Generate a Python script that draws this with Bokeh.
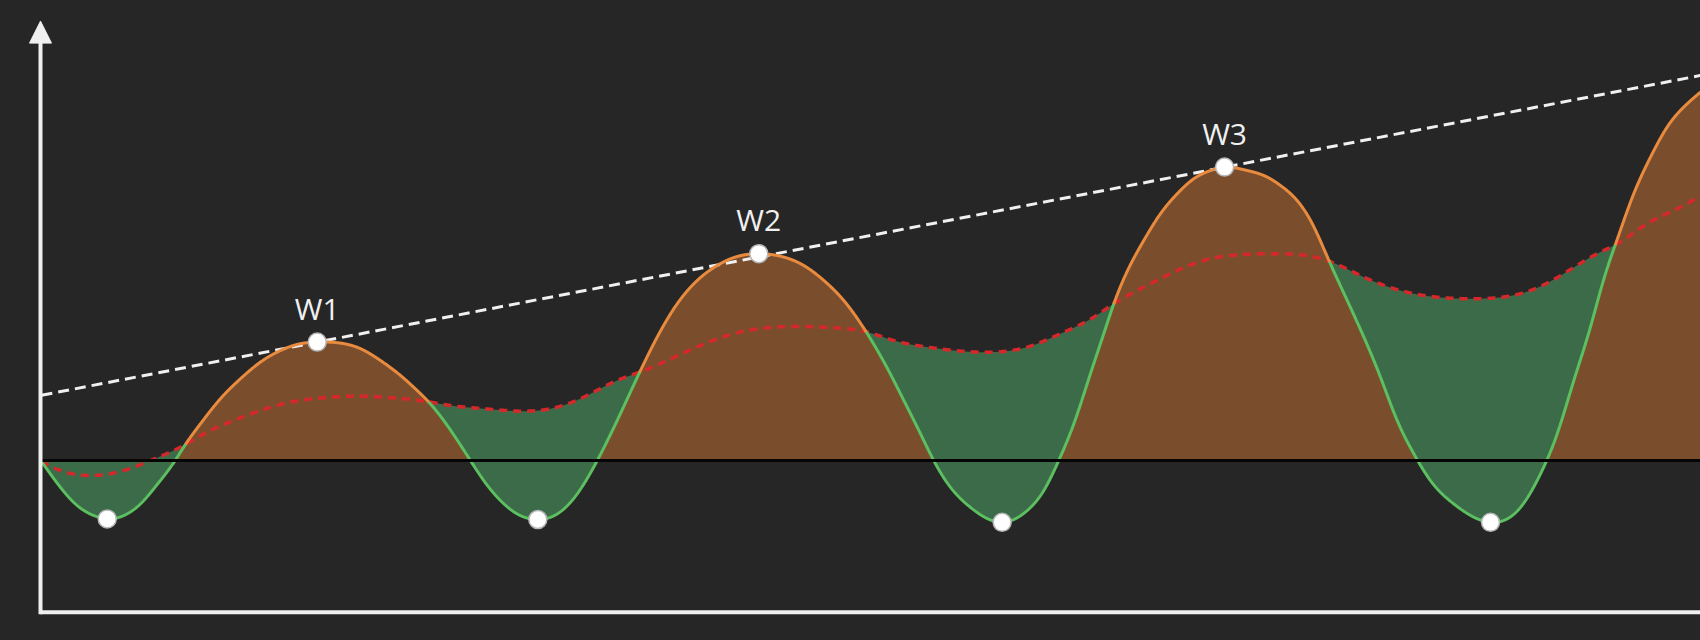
import numpy as np
from bokeh.plotting import figure
from bokeh.models import Range1d, Arrow, NormalHead
from bokeh.embed import file_html
from bokeh.resources import INLINE
from bokeh.core.properties import value

# ---------------- data ----------------
main_x = [0.00, 1.14, 2.15, 3.15, 3.96, 4.96, 5.96, 6.97, 7.97, 8.67, 9.58, 10.78, 11.99, 13.19,
          14.40, 15.60, 16.61, 18.01, 19.22, 20.42, 21.63, 22.63, 23.33, 24.23, 25.14, 25.84,
          26.64, 27.65, 28.66, 29.90, 31.07, 32.27, 33.48, 34.68, 36.04, 37.09, 38.30, 39.50,
          40.70, 41.91, 43.21, 44.72, 45.92, 47.13, 48.33, 49.74, 50.95, 51.95, 52.95, 53.75,
          54.76, 55.96, 57.87, 59.38, 60.38, 61.28, 62.19, 63.19, 63.99, 64.60, 65.40, 66.40,
          67.41, 68.42, 69.42, 70.42, 71.27, 72.43, 73.84, 74.64, 75.64, 76.64, 77.45, 78.66,
          79.66, 80.66, 81.67, 82.67, 83.67, 85.08, 87.29, 89.10, 90.30, 91.31, 92.31, 93.31,
          94.11, 94.92, 95.92, 96.93, 97.93, 98.93, 99.94]
main_y = [-0.05, -1.34, -2.25, -2.75, -2.92, -2.75, -2.17, -1.20, -0.10, 0.80, 1.84, 3.09, 4.09, 4.92,
          5.50, 5.84, 5.92, 5.87, 5.59, 5.00, 4.25, 3.50, 2.92, 2.00, 0.90, 0.00,
          -1.00, -2.00, -2.67, -2.95, -2.67, -1.67, 0.00, 2.00, 4.42, 6.17, 7.84, 9.00,
          9.75, 10.20, 10.34, 10.17, 9.75, 9.00, 8.00, 6.35, 4.62, 3.00, 1.34, 0.00,
          -1.34, -2.34, -3.09, -2.50, -1.50, 0.00, 1.84, 4.34, 6.34, 7.84, 9.45, 11.00,
          12.34, 13.34, 14.09, 14.50, 14.67, 14.54, 14.17, 13.75, 13.00, 11.70, 10.20, 8.00,
          6.17, 4.17, 2.00, 0.34, -1.00, -2.17, -3.09, -2.34, -0.67, 1.34, 4.00, 6.67,
          9.05, 11.05, 13.34, 15.17, 16.67, 17.67, 18.42]

avg_x = [0.00, 1.14, 2.95, 4.96, 6.57, 8.37, 9.98, 11.58, 13.19, 15.00, 17.01, 19.02, 21.02, 23.03,
         24.64, 26.64, 28.66, 30.66, 32.67, 34.68, 36.04, 37.69, 39.70, 41.70, 43.72, 45.72,
         47.73, 49.74, 51.34, 53.36, 55.36, 57.37, 59.38, 61.39, 63.39, 64.60, 66.40, 68.42,
         70.42, 72.43, 74.64, 77.45, 79.66, 82.67, 85.68, 87.69, 89.70, 91.70, 93.72, 94.92,
         96.73, 98.73, 99.94]
avg_y = [-0.05, -0.50, -0.75, -0.50, 0.00, 0.67, 1.42, 2.00, 2.50, 2.92, 3.14, 3.22, 3.14, 2.97,
         2.75, 2.59, 2.47, 2.59, 3.17, 4.00, 4.42, 5.00, 5.75, 6.34, 6.64, 6.70,
         6.64, 6.42, 6.00, 5.67, 5.47, 5.42, 5.67, 6.34, 7.17, 7.84, 8.67, 9.50,
         10.09, 10.30, 10.34, 10.00, 9.17, 8.34, 8.09, 8.14, 8.50, 9.34, 10.34, 10.84,
         11.84, 12.67, 13.25]

trend_x = [0.0, 100.0]
trend_y = [3.26, 19.26]

peak_x = [16.61, 43.21, 71.27]
peak_y = [5.92, 10.34, 14.67]
peak_labels = ["W1", "W2", "W3"]

trough_x = [3.96, 29.90, 57.87, 87.29]
trough_y = [-2.92, -2.95, -3.09, -3.09]

# ---------------- styles ----------------
BG = "#262626"
ORANGE_FILL = "#7a4e2d"
GREEN_FILL = "#3b6b48"
ORANGE_LINE = "#e98b3f"
GREEN_LINE = "#5cbf60"
RED = "#d6282b"
WHITE = "#f0f0f0"

X_LO, X_HI = -2.47, 99.94
Y_LO, Y_HI = -9.0, 23.0
AXIS_X = -0.06
AXIS_Y = -7.59
ARROW_TIP = 21.97


def spline(xp, yp, x):
    """Natural cubic spline through the read points (rendering only)."""
    xp = np.asarray(xp, float)
    yp = np.asarray(yp, float)
    n = len(xp)
    h = np.diff(xp)
    A = np.zeros((n, n))
    b = np.zeros(n)
    A[0, 0] = 1.0
    A[-1, -1] = 1.0
    for i in range(1, n - 1):
        A[i, i - 1] = h[i - 1]
        A[i, i] = 2 * (h[i - 1] + h[i])
        A[i, i + 1] = h[i]
        b[i] = 3 * ((yp[i + 1] - yp[i]) / h[i] - (yp[i] - yp[i - 1]) / h[i - 1])
    c = np.linalg.solve(A, b)
    bb = (yp[1:] - yp[:-1]) / h - h * (2 * c[:-1] + c[1:]) / 3
    dd = (c[1:] - c[:-1]) / (3 * h)
    i = np.clip(np.searchsorted(xp, x) - 1, 0, n - 2)
    dx = x - xp[i]
    return yp[i] + bb[i] * dx + c[i] * dx**2 + dd[i] * dx**3


p = figure(width=1700, height=640, output_backend="svg", toolbar_location=None, title=None,
           x_range=Range1d(X_LO, X_HI), y_range=Range1d(Y_LO, Y_HI),
           x_axis_type=None, y_axis_type=None,
           min_border_left=0, min_border_right=0, min_border_top=0, min_border_bottom=0,
           background_fill_color=BG, border_fill_color=BG, outline_line_color=None)
p.grid.visible = False

xs = np.linspace(main_x[0], main_x[-1], 5000)
m = spline(main_x, main_y, xs)
r = spline(avg_x, avg_y, xs)

# fills
p.varea(x=xs, y1=np.zeros_like(xs), y2=np.maximum(m, 0), fill_color=ORANGE_FILL)
p.varea(x=xs, y1=m, y2=np.maximum(np.maximum(m, r), 0), fill_color=GREEN_FILL)

# zero baseline (from the y-axis to the right edge)
p.add_layout(Arrow(end=None, x_start=AXIS_X, y_start=0, x_end=X_HI + 1, y_end=0,
                   line_color="#050505", line_width=3))

# trend line
p.line(trend_x, trend_y, line_color=WHITE, line_width=3, line_dash="11 6")

# moving average
p.line(xs, r, line_color=RED, line_width=3.5, line_dash="8 6")

# main curve coloured by relation to the average
below = m < r
above = ~below
above_d = above | np.roll(above, 1) | np.roll(above, -1)
below_d = below | np.roll(below, 1) | np.roll(below, -1)
p.line(xs, np.where(below_d, m, np.nan), line_color=GREEN_LINE, line_width=3)
p.line(xs, np.where(above_d, m, np.nan), line_color=ORANGE_LINE, line_width=3)

# markers
p.scatter(trough_x, trough_y, size=18, fill_color="white", line_color="#b5b5b5", line_width=1.5)
p.scatter(peak_x, peak_y, size=18, fill_color="white", line_color="#b5b5b5", line_width=1.5)

p.text(x=peak_x, y=peak_y, text=peak_labels, text_align="center", text_baseline="middle",
       y_offset=-34, text_font=value("Open Sans"), text_font_size="30px", text_color=WHITE)

# axes: x-axis line and y-axis with arrow head
p.add_layout(Arrow(end=None, x_start=AXIS_X, y_start=AXIS_Y, x_end=X_HI + 1, y_end=AXIS_Y,
                   line_color=WHITE, line_width=4))
p.add_layout(Arrow(end=NormalHead(size=22, fill_color=WHITE, line_color=WHITE, line_width=1),
                   x_start=AXIS_X, y_start=AXIS_Y - 0.1, x_end=AXIS_X, y_end=ARROW_TIP,
                   line_color=WHITE, line_width=4))

html = file_html(p, INLINE)
html = html.replace("</head>", "<style>body{background:#262626;}</style></head>", 1)
open("out.html", "w").write(html)
